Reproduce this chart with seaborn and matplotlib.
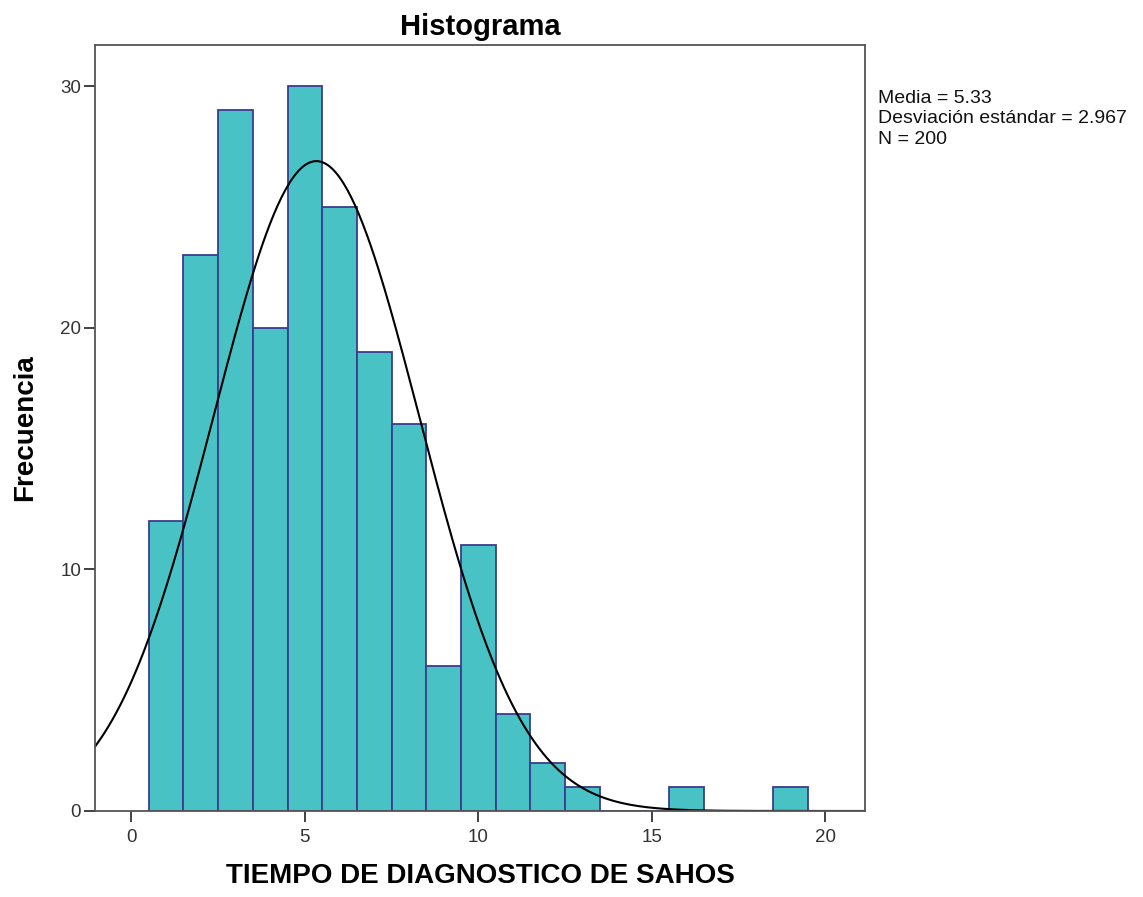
import numpy as np
import pandas as pd
import seaborn as sns
import matplotlib.pyplot as plt

# bin centres (years) and counts
centros = [1, 2, 3, 4, 5, 6, 7, 8, 9, 10, 11, 12, 13, 16, 19]
frecuencias = [12, 23, 29, 20, 30, 25, 19, 16, 6, 11, 4, 2, 1, 1, 1]

media = 5.33
desviacion = 2.967
n_total = 200

df = pd.DataFrame({"tiempo": centros, "n": frecuencias})

sns.set_style("white")
plt.rcParams["font.family"] = ["Liberation Sans", "DejaVu Sans"]
plt.rcParams["text.color"] = "black"
plt.rcParams["axes.labelcolor"] = "black"

fig = plt.figure(figsize=(11.43, 8.97), dpi=100)
ax = fig.add_axes([0.0831, 0.0959, 0.674, 0.854])

sns.histplot(
    data=df, x="tiempo", weights="n",
    bins=list(np.arange(0.5, 20.5, 1)),
    color="#48C2C5", edgecolor="#3A3D8F", linewidth=1.3,
    alpha=1, ax=ax
)

# fitted normal curve, scaled to counts (bin width = 1)
xs = np.linspace(-1.1, 21.2, 400)
ys = n_total / (desviacion * np.sqrt(2 * np.pi)) * np.exp(-0.5 * ((xs - media) / desviacion) ** 2)
ax.plot(xs, ys, color="black", linewidth=1.5)

ax.set_xlim(-1.05, 21.15)
ax.set_ylim(0, 31.7)
ax.set_xticks([0, 5, 10, 15, 20])
ax.set_yticks([0, 10, 20, 30])
ax.tick_params(axis="both", bottom=True, left=True, direction="out", length=8, width=1.3,
               color="#333333", labelsize=13.5, labelcolor="#333333", pad=2)
ax.tick_params(axis="x", pad=5)
for s in ax.spines.values():
    s.set_color("#555555")
    s.set_linewidth(1.3)

ax.set_title("Histograma", fontsize=21, fontweight="bold", pad=7, color="black")
ax.set_xlabel("TIEMPO DE DIAGNOSTICO DE SAHOS", fontsize=20, fontweight="bold", labelpad=12)
ax.set_ylabel("Frecuencia", fontsize=20, fontweight="bold", labelpad=16)

fig.text(0.768, 0.9,
         "Media = 5.33\nDesviación estándar = 2.967\nN = 200",
         fontsize=14, va="top", ha="left", linespacing=1.28, color="#111111")

plt.savefig("out.png", dpi=100)
